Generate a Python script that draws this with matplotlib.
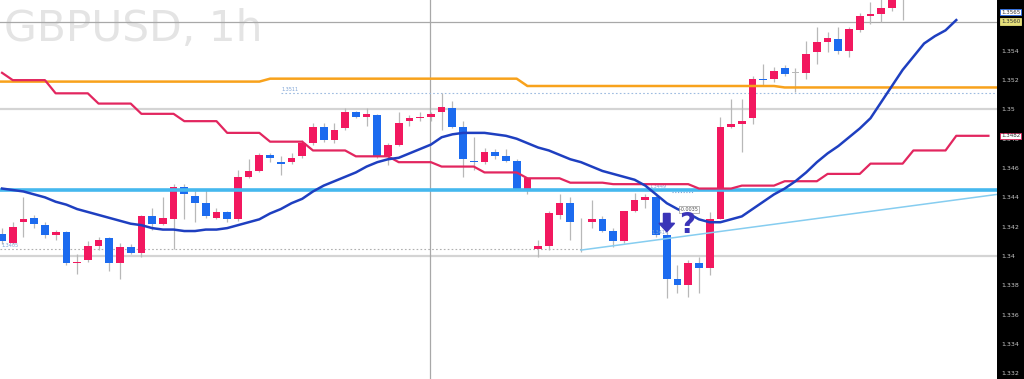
import matplotlib
matplotlib.use("Agg")
import matplotlib.pyplot as plt
import numpy as np
from matplotlib.patches import FancyArrow

# hourly candles (bar index = position)
opens = [1.3415, 1.3409, 1.3423, 1.3426, 1.3421, 1.3414, 1.3416, 1.3395, 1.3397, 1.3407,
         1.3412, 1.3395, 1.3406, 1.3402, 1.3427, 1.3422, 1.3425, 1.3447, 1.3441, 1.3436,
         1.3426, 1.3430, 1.3425, 1.3454, 1.3458, 1.3469, 1.3464, 1.3464, 1.3468, 1.3477,
         1.3488, 1.3479, 1.3487, 1.3498, 1.3495, 1.3496, 1.3468, 1.3476, 1.3492, 1.3494,
         1.3495, 1.3498, 1.3501, 1.3488, 1.3465, 1.3464, 1.3471, 1.3468, 1.3465, 1.3446,
         1.3405, 1.3407, 1.3428, 1.3436, 1.3423, 1.3423, 1.3425, 1.3417, 1.3410, 1.3431,
         1.3438, 1.3440, 1.3414, 1.3384, 1.3380, 1.3395, 1.3392, 1.3425, 1.3488, 1.3490,
         1.3494, 1.3521, 1.3521, 1.3528, 1.3525, 1.3525, 1.3539, 1.3546, 1.3548, 1.3540,
         1.3554, 1.3564, 1.3565, 1.3569, 1.3578]
highs = [1.3419, 1.3423, 1.3440, 1.3428, 1.3423, 1.3418, 1.3417, 1.3401, 1.3410, 1.3413,
         1.3413, 1.3409, 1.3408, 1.3428, 1.3433, 1.3440, 1.3449, 1.3449, 1.3444, 1.3446,
         1.3433, 1.3431, 1.3459, 1.3466, 1.3470, 1.3470, 1.3468, 1.3470, 1.3479, 1.3491,
         1.3491, 1.3491, 1.3501, 1.3499, 1.3501, 1.3497, 1.3477, 1.3498, 1.3496, 1.3498,
         1.3498, 1.3511, 1.3506, 1.3492, 1.3481, 1.3474, 1.3473, 1.3473, 1.3466, 1.3454,
         1.3411, 1.3431, 1.3442, 1.3440, 1.3426, 1.3438, 1.3427, 1.3419, 1.3431, 1.3443,
         1.3442, 1.3443, 1.3416, 1.3394, 1.3397, 1.3399, 1.3430, 1.3495, 1.3507, 1.3507,
         1.3523, 1.3531, 1.3529, 1.3530, 1.3528, 1.3547, 1.3556, 1.3553, 1.3556, 1.3556,
         1.3566, 1.3573, 1.3576, 1.3582, 1.3595]
lows = [1.3408, 1.3408, 1.3413, 1.3419, 1.3412, 1.3411, 1.3394, 1.3388, 1.3396, 1.3404,
        1.3390, 1.3384, 1.3401, 1.3399, 1.3418, 1.3421, 1.3405, 1.3425, 1.3423, 1.3426,
        1.3425, 1.3423, 1.3424, 1.3453, 1.3457, 1.3464, 1.3455, 1.3463, 1.3467, 1.3476,
        1.3478, 1.3477, 1.3486, 1.3494, 1.3489, 1.3467, 1.3462, 1.3475, 1.3489, 1.3492,
        1.3492, 1.3486, 1.3487, 1.3454, 1.3459, 1.3463, 1.3466, 1.3464, 1.3445, 1.3442,
        1.3399, 1.3404, 1.3425, 1.3411, 1.3403, 1.3419, 1.3416, 1.3406, 1.3409, 1.3430,
        1.3433, 1.3413, 1.3371, 1.3375, 1.3372, 1.3375, 1.3387, 1.3425, 1.3487, 1.3471,
        1.3490, 1.3517, 1.3519, 1.3523, 1.3512, 1.3521, 1.3531, 1.3539, 1.3538, 1.3536,
        1.3553, 1.3558, 1.3560, 1.3567, 1.3561]
closes = [1.3410, 1.3420, 1.3425, 1.3422, 1.3414, 1.3416, 1.3395, 1.3396, 1.3407, 1.3411,
          1.3395, 1.3406, 1.3402, 1.3427, 1.3422, 1.3426, 1.3447, 1.3442, 1.3436, 1.3427,
          1.3430, 1.3425, 1.3454, 1.3458, 1.3469, 1.3467, 1.3463, 1.3467, 1.3477, 1.3488,
          1.3479, 1.3486, 1.3498, 1.3495, 1.3497, 1.3468, 1.3476, 1.3491, 1.3494, 1.3495,
          1.3497, 1.3502, 1.3488, 1.3466, 1.3464, 1.3471, 1.3468, 1.3465, 1.3446, 1.3453,
          1.3407, 1.3429, 1.3436, 1.3423, 1.3423, 1.3425, 1.3417, 1.3410, 1.3431, 1.3438,
          1.3440, 1.3414, 1.3384, 1.3380, 1.3395, 1.3392, 1.3425, 1.3488, 1.3490, 1.3492,
          1.3521, 1.3520, 1.3526, 1.3524, 1.3525, 1.3538, 1.3546, 1.3549, 1.3540, 1.3555,
          1.3564, 1.3565, 1.3569, 1.3578, 1.3590]

# moving average (blue), one value per bar
ma = [1.3446, 1.3445, 1.3444, 1.3442, 1.3440, 1.3437, 1.3435, 1.3432, 1.3430, 1.3428,
      1.3426, 1.3424, 1.3422, 1.3421, 1.3419, 1.3418, 1.3418, 1.3417, 1.3417, 1.3418,
      1.3418, 1.3419, 1.3421, 1.3423, 1.3425, 1.3429, 1.3432, 1.3436, 1.3439, 1.3444,
      1.3448, 1.3451, 1.3454, 1.3457, 1.3461, 1.3464, 1.3466, 1.3467, 1.3470, 1.3473,
      1.3476, 1.3481, 1.3483, 1.3484, 1.3484, 1.3484, 1.3483, 1.3482, 1.3480, 1.3477,
      1.3474, 1.3472, 1.3469, 1.3466, 1.3464, 1.3461, 1.3458, 1.3456, 1.3454, 1.3452,
      1.3448, 1.3442, 1.3436, 1.3432, 1.3429, 1.3425, 1.3423, 1.3423, 1.3425, 1.3427,
      1.3432, 1.3437, 1.3442, 1.3446, 1.3451, 1.3457, 1.3464, 1.3470, 1.3475, 1.3481,
      1.3487, 1.3494, 1.3505, 1.3516, 1.3527, 1.3536, 1.3545, 1.3550, 1.3554, 1.3561]

# stepped red line, 4-bar steps
red_levels = [1.3520, 1.3511, 1.3504, 1.3497, 1.3492, 1.3484, 1.3478, 1.3472, 1.3468,
              1.3464, 1.3461, 1.3457, 1.3453, 1.3450, 1.3449, 1.3449, 1.3446, 1.3448,
              1.3451, 1.3456, 1.3463, 1.3472, 1.3482]
red_first = 1.3525

# orange line segments: (first bar, last bar, level)
orange_segs = [(0, 24, 1.3519), (25, 48, 1.3521), (49, 72, 1.3516), (73, 93, 1.3515)]

hline_blue = 1.3445
grey_levels = [1.3500, 1.3400]
crosshair_price = 1.3560
crosshair_bar = 39.93
dotted_hi = 1.3511
dotted_lo = 1.3405
trend_x = [54, 92.8]
trend_y = [1.3404, 1.3442]

ticks = [1.332, 1.334, 1.336, 1.338, 1.340, 1.342, 1.344, 1.346, 1.348, 1.350,
         1.352, 1.354, 1.356]

BULL = "#f2185f"
BEAR = "#1c6bef"

fig = plt.figure(figsize=(10.24, 3.79), dpi=100, facecolor="black")
ax = fig.add_axes([0, 0, 997 / 1024, 1])
ax.set_facecolor("white")
x_left, x_right = -0.19, 92.8
ax.set_xlim(x_left, x_right)
ax.set_ylim(1.33160, 1.35747)

# watermark
ax.text(0.004, 0.893, "GBPUSD, 1h", transform=ax.transAxes, ha="left", va="baseline",
        fontsize=30.5, color="#e4e4e4", family="DejaVu Sans", zorder=0)

# level lines
for g in grey_levels:
    ax.axhline(g, color="#d4d4d4", lw=1.6, zorder=1)
ax.axhline(crosshair_price, color="#a8a8a8", lw=0.9, zorder=1)
ax.axvline(crosshair_bar, color="#a8a8a8", lw=0.9, zorder=1)
ax.hlines(dotted_hi, 26, x_right, color="#9dbbe0", lw=0.8, ls=(0, (1.5, 2)), zorder=1)
ax.hlines(dotted_lo, x_left, 54, color="#b0b0b0", lw=0.8, ls=(0, (1.5, 2)), zorder=1)
ax.text(26.1, dotted_hi + 0.00012, "1.3511", fontsize=3.5, color="#7fa4d6", va="bottom")
ax.text(-0.05, dotted_lo + 0.00004, "1.3405", fontsize=3.5, color="#7fa4d6", va="bottom")

# candles
n = len(opens)
xs = np.arange(n)
o = np.array(opens); c = np.array(closes)
ax.vlines(xs, lows, highs, color="#b8b8b8", lw=0.9, zorder=2)
up = c >= o
bottoms = np.minimum(o, c)
heights = np.maximum(np.abs(c - o), 0.00004)
colors = np.where(up, BULL, BEAR)
doji = np.abs(c - o) < 0.00002
colors = np.where(doji, "#b8b8b8", colors)
ax.bar(xs, heights, bottom=bottoms, width=0.72, color=colors, zorder=3)

# indicator lines
ax.axhline(hline_blue, color="#45b8ee", lw=2.6, zorder=4)
ax.plot(trend_x, trend_y, color="#86cdf0", lw=1.1, zorder=4)
ox, oy = [], []
for a, b, lvl in orange_segs:
    ox += [a, b]
    oy += [lvl, lvl]
ox[0] = x_left
ax.plot(ox, oy, color="#f8a21c", lw=1.8, zorder=4)

red = [red_first] + [lvl for lvl in red_levels for _ in range(4)]
ax.plot(np.arange(len(red)), red, color="#e2265f", lw=1.6, zorder=5)
ax.plot(np.arange(len(ma)), ma, color="#1e3fc0", lw=1.8, zorder=5)

# measuring annotation, arrow and question mark
ax.text(60.4, 1.34455, "1.3449", fontsize=3.5, color="#7fa4d6", va="bottom")
ax.hlines(1.34435, 62.5, 64.5, color="#7fa4d6", lw=0.8, ls=(0, (1, 1.5)), zorder=4)
ax.text(60.6, 1.3414, "1.3414", fontsize=3.5, color="#7fa4d6", va="bottom")
ax.text(63.2, 1.3432, "-0.0035", fontsize=3.5, color="#555555", va="center", zorder=7,
        bbox=dict(boxstyle="square,pad=0.2", fc="white", ec="#999999", lw=0.5))
ax.add_patch(FancyArrow(62.0, 1.3429, 0, -0.00125, width=0.62, head_width=1.45,
                        head_length=0.00058, length_includes_head=True,
                        color="#3a34b8", zorder=7))
ax.text(63.9, 1.3421, "?", fontsize=20, fontweight="bold", color="#3a34b8",
        ha="center", va="center", zorder=7)

# right price axis
ax.yaxis.tick_right()
ax.set_yticks(ticks)
ax.set_yticklabels([f"{t:.3f}".rstrip("0") for t in ticks])
ax.tick_params(axis="y", length=0, pad=3, labelsize=4.5, labelcolor="#c8c8c8")
ax.set_xticks([])
for s in ax.spines.values():
    s.set_visible(False)

tag = dict(fontsize=4.0, va="center", ha="left", transform=ax.get_yaxis_transform(),
           clip_on=False, zorder=8)
ax.text(1.004, 1.35665, "1.3565", color="#333333",
        bbox=dict(boxstyle="square,pad=0.12", fc="white", ec="#2a6ff0", lw=0.6), **tag)
ax.text(1.004, 1.3560, "1.3560", color="#333333",
        bbox=dict(boxstyle="square,pad=0.12", fc="#e6e07a", ec="#e6e07a", lw=0.6), **tag)
ax.text(1.004, 1.3482, "1.3482", color="#333333",
        bbox=dict(boxstyle="square,pad=0.12", fc="white", ec="#e2265f", lw=0.6), **tag)

fig.savefig("out.png", dpi=100, facecolor="black")
